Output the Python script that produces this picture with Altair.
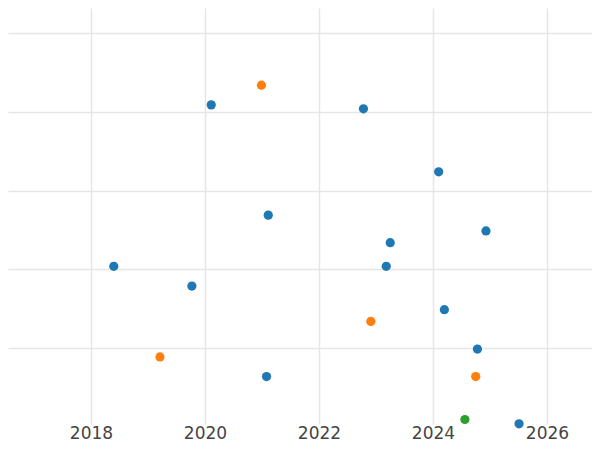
import altair as alt
import pandas as pd

years = [2020.99, 2020.11, 2022.78, 2024.10, 2021.11, 2024.93, 2023.25, 2018.40, 2023.18,
         2019.77, 2024.20, 2022.91, 2019.21, 2024.78, 2021.08, 2024.75, 2024.56, 2025.51]
values = [43.4, 40.9, 40.4, 32.4, 26.9, 24.9, 23.4, 20.4, 20.4,
          17.9, 14.9, 13.4, 8.9, 9.9, 6.4, 6.4, 0.95, 0.4]
groups = ["B", "A", "A", "A", "A", "A", "A", "A", "A",
          "A", "A", "B", "B", "A", "A", "B", "C", "A"]

df = pd.DataFrame({"year": years, "value": values, "group": groups})

chart = alt.Chart(df).mark_circle(size=85, opacity=1).encode(
    x=alt.X("year:Q",
            scale=alt.Scale(domain=[2016.544, 2026.79], nice=False, zero=False),
            axis=alt.Axis(values=[2018, 2020, 2022, 2024, 2026], format="d", title=None,
                          domain=False, ticks=False, labelPadding=1, labelFontSize=17,
                          labelColor="#444", labelFont="DejaVu Sans",
                          gridColor="#e6e6e6", gridWidth=1.5)),
    y=alt.Y("value:Q",
            scale=alt.Scale(domain=[0.38, 53.2], nice=False, zero=False),
            axis=alt.Axis(values=[10, 20, 30, 40, 50], title=None, labels=False,
                          domain=False, ticks=False, gridColor="#e6e6e6", gridWidth=1.5)),
    color=alt.Color("group:N", scale=alt.Scale(domain=["A", "B", "C"],
                    range=["#1f77b4", "#ff7f0e", "#2ca02c"]), legend=None),
).properties(width=584, height=416, padding=0).configure_view(stroke=None)

chart.save("out.html", embed_options={"renderer": "svg", "actions": False})
